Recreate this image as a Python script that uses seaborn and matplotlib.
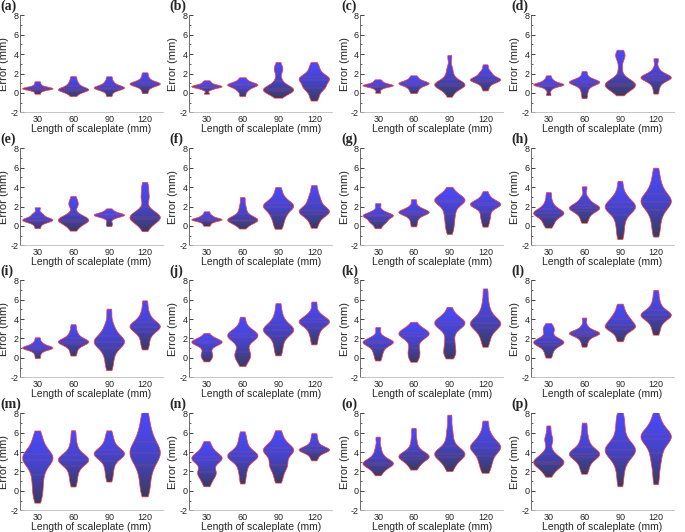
import numpy as np
import pandas as pd
import seaborn as sns
import matplotlib.pyplot as plt
from matplotlib.colors import LinearSegmentedColormap
from matplotlib.ticker import MultipleLocator

# Scaleplate lengths (mm)
lengths = ["30", "60", "90", "120"]
panel_labels = list("abcdefghijklmnop")

# Error samples (mm), one list per length
panel_a = [[-0.1, 0.15, 0.3, 0.35, 0.4, 0.42, 0.45, 0.5, 0.55, 0.65, 0.85, 1.1],
           [-0.3, 0.0, 0.15, 0.25, 0.3, 0.35, 0.4, 0.5, 0.7, 0.9, 1.2, 1.6],
           [-0.3, 0.1, 0.3, 0.4, 0.5, 0.5, 0.55, 0.6, 0.75, 0.95, 1.2, 1.6],
           [0.0, 0.4, 0.65, 0.8, 0.85, 0.9, 0.95, 1.0, 1.1, 1.3, 1.6, 2.0]]
panel_b = [[-0.1, 0.3, 0.45, 0.55, 0.6, 0.62, 0.65, 0.7, 0.75, 0.85, 1.0, 1.2],
           [-0.3, 0.1, 0.35, 0.5, 0.65, 0.75, 0.8, 0.85, 0.9, 1.0, 1.2, 1.5],
           [-0.4, -0.1, 0.1, 0.2, 0.25, 0.3, 0.35, 0.4, 0.5, 0.7, 1.0, 1.5, 2.3, 2.45, 3.0],
           [-0.7, -0.2, 0.3, 0.5, 0.6, 0.8, 1.1, 1.3, 1.4, 1.5, 1.6, 1.7, 2.1, 2.5, 3.0]]
panel_c = [[0.0, 0.35, 0.55, 0.65, 0.7, 0.72, 0.75, 0.8, 0.85, 0.95, 1.1, 1.3],
           [0.0, 0.3, 0.55, 0.7, 0.85, 0.9, 0.95, 1.0, 1.1, 1.2, 1.4, 1.7],
           [-0.3, 0.2, 0.5, 0.65, 0.75, 0.8, 0.85, 0.9, 1.0, 1.2, 1.5, 2.0, 2.6, 3.7],
           [0.3, 0.7, 1.0, 1.15, 1.25, 1.3, 1.35, 1.4, 1.5, 1.6, 1.9, 2.0, 2.3, 2.8]]
panel_d = [[-0.2, 0.3, 0.6, 0.75, 0.8, 0.8, 0.82, 0.85, 0.9, 1.0, 1.2, 1.35, 1.7],
           [-0.5, 0.0, 0.4, 0.7, 0.9, 1.0, 1.05, 1.1, 1.15, 1.2, 1.3, 1.6, 2.1],
           [-0.1, 0.3, 0.55, 0.7, 0.75, 0.8, 0.85, 0.9, 1.0, 1.1, 1.4, 2.5, 3.7, 3.8, 4.2],
           [0.0, 0.6, 1.0, 1.3, 1.45, 1.5, 1.55, 1.6, 1.7, 1.8, 2.0, 2.5, 3.4]]
panel_e = [[-0.2, 0.2, 0.4, 0.5, 0.55, 0.6, 0.65, 0.7, 0.85, 1.1, 1.25, 1.8],
           [-0.4, 0.0, 0.3, 0.45, 0.55, 0.6, 0.65, 0.7, 0.9, 1.2, 2.1, 2.3, 2.9],
           [0.0, 0.3, 0.7, 0.9, 1.0, 1.05, 1.1, 1.1, 1.15, 1.2, 1.3, 1.45, 1.7],
           [-0.4, 0.1, 0.4, 0.6, 0.75, 0.8, 0.85, 0.9, 1.0, 1.15, 1.4, 1.7, 2.8, 3.0, 3.8, 4.3]]
panel_f = [[0.0, 0.25, 0.45, 0.55, 0.6, 0.62, 0.65, 0.7, 0.8, 0.95, 1.1, 1.4],
           [-0.2, 0.15, 0.4, 0.5, 0.55, 0.6, 0.65, 0.75, 0.9, 1.2, 1.6, 2.1, 2.8],
           [-0.2, 0.3, 0.8, 1.1, 1.4, 1.7, 1.9, 2.0, 2.1, 2.2, 2.4, 2.7, 3.1, 3.8],
           [-0.1, 0.5, 0.9, 1.2, 1.35, 1.45, 1.5, 1.6, 1.8, 2.1, 2.5, 2.8, 3.3, 4.0]]
panel_g = [[-0.2, 0.2, 0.4, 0.5, 0.7, 0.9, 1.0, 1.05, 1.1, 1.15, 1.3, 1.6, 2.2],
           [0.0, 0.5, 0.9, 1.15, 1.3, 1.35, 1.4, 1.45, 1.55, 1.7, 2.0, 2.6],
           [-0.7, -0.1, 0.4, 0.9, 1.3, 1.7, 2.1, 2.4, 2.55, 2.6, 2.65, 2.7, 2.8, 3.0, 3.3, 3.8],
           [0.0, 0.5, 0.9, 1.2, 1.6, 1.9, 2.05, 2.15, 2.2, 2.25, 2.3, 2.4, 2.6, 2.9, 3.4]]
panel_h = [[-0.1, 0.3, 0.6, 0.9, 1.1, 1.2, 1.3, 1.35, 1.4, 1.6, 1.8, 2.1, 2.6, 3.3],
           [0.4, 0.9, 1.3, 1.5, 1.7, 1.8, 1.85, 1.9, 2.0, 2.2, 2.5, 2.9, 3.9],
           [-1.2, -0.4, 0.3, 0.9, 1.3, 1.6, 1.8, 1.9, 2.0, 2.1, 2.3, 2.6, 2.9, 3.4, 4.4],
           [-0.9, 0.0, 0.8, 1.4, 1.8, 2.2, 2.4, 2.5, 2.6, 2.8, 3.1, 3.5, 4.0, 4.7, 5.7]]
panel_i = [[0.0, 0.4, 0.7, 0.85, 0.95, 1.0, 1.0, 1.05, 1.1, 1.2, 1.4, 1.6, 2.0],
           [0.3, 0.8, 1.2, 1.4, 1.55, 1.6, 1.65, 1.7, 1.8, 2.0, 2.3, 2.7, 3.3],
           [-1.1, -0.3, 0.4, 0.9, 1.3, 1.5, 1.6, 1.7, 1.8, 2.0, 2.4, 2.9, 3.5, 4.8],
           [1.0, 1.6, 2.2, 2.6, 2.9, 3.1, 3.2, 3.25, 3.3, 3.5, 3.8, 4.2, 4.8, 5.7]]
panel_j = [[-0.3, 0.1, 0.25, 0.6, 1.0, 1.3, 1.5, 1.55, 1.6, 1.65, 1.7, 1.8, 2.0, 2.4],
           [-0.7, -0.1, 0.2, 0.35, 0.8, 1.4, 1.9, 2.1, 2.2, 2.3, 2.35, 2.5, 2.7, 3.1, 4.0],
           [0.4, 1.1, 1.7, 2.2, 2.5, 2.7, 2.85, 2.9, 3.0, 3.2, 3.5, 3.9, 4.5, 5.4],
           [1.5, 2.2, 2.7, 3.1, 3.4, 3.6, 3.7, 3.75, 3.8, 4.0, 4.3, 4.7, 5.6]]
panel_k = [[-0.2, 0.3, 0.7, 1.0, 1.3, 1.45, 1.55, 1.6, 1.65, 1.75, 1.9, 2.2, 3.0],
           [-0.3, 0.1, 0.5, 0.8, 1.3, 1.8, 2.1, 2.3, 2.4, 2.5, 2.55, 2.6, 2.8, 3.0, 3.5],
           [0.1, 0.5, 0.65, 1.4, 1.7, 2.4, 3.0, 3.3, 3.5, 3.55, 3.6, 3.65, 3.7, 3.9, 4.3, 5.0],
           [1.3, 2.0, 2.5, 2.9, 3.2, 3.4, 3.5, 3.55, 3.6, 3.8, 4.1, 4.5, 5.0, 5.8, 6.9]]
panel_l = [[0.1, 0.6, 1.0, 1.3, 1.45, 1.55, 1.6, 1.65, 1.7, 1.9, 2.2, 2.8, 2.95, 3.4],
           [1.2, 1.7, 2.0, 2.3, 2.4, 2.45, 2.5, 2.55, 2.6, 2.7, 2.9, 3.3, 4.0],
           [1.8, 2.4, 2.8, 3.0, 3.1, 3.2, 3.3, 3.5, 3.7, 3.9, 4.1, 4.4, 4.8, 5.4],
           [2.5, 3.1, 3.6, 3.9, 4.2, 4.3, 4.4, 4.45, 4.5, 4.7, 5.0, 5.4, 6.0, 6.8]]
panel_m = [[-1.0, -0.2, 0.5, 1.2, 1.8, 2.4, 2.8, 3.1, 3.3, 3.4, 3.5, 3.7, 4.0, 4.5, 5.1, 5.9],
           [0.6, 1.3, 1.9, 2.4, 2.8, 3.0, 3.1, 3.2, 3.25, 3.3, 3.5, 3.8, 4.3, 5.0, 6.0],
           [1.1, 1.8, 2.4, 2.9, 3.3, 3.6, 3.7, 3.8, 3.85, 3.9, 4.1, 4.4, 4.8, 5.3, 6.0],
           [-0.3, 0.6, 1.5, 2.2, 2.8, 3.2, 3.5, 3.8, 4.0, 4.2, 4.5, 4.9, 5.4, 6.0, 6.8, 7.9]]
panel_n = [[0.6, 1.2, 1.6, 1.8, 2.0, 2.4, 2.9, 3.2, 3.3, 3.35, 3.4, 3.6, 3.9, 4.3, 4.9],
           [0.9, 1.7, 2.3, 2.8, 3.2, 3.4, 3.5, 3.6, 3.65, 3.7, 3.9, 4.2, 4.7, 5.2, 5.9],
           [1.0, 1.7, 2.3, 2.6, 2.8, 3.2, 3.7, 4.0, 4.1, 4.2, 4.3, 4.5, 4.8, 5.3, 6.0],
           [3.2, 3.6, 3.9, 4.05, 4.15, 4.2, 4.25, 4.3, 4.4, 4.6, 4.9, 5.3, 5.8]]
panel_o = [[1.7, 2.1, 2.4, 2.6, 2.7, 2.8, 2.85, 2.9, 3.0, 3.2, 3.5, 3.9, 4.5, 5.4],
           [2.3, 2.7, 3.0, 3.3, 3.4, 3.5, 3.55, 3.6, 3.7, 3.9, 4.2, 4.7, 5.4, 6.3],
           [2.2, 2.7, 3.1, 3.4, 3.6, 3.75, 3.8, 3.85, 3.9, 4.1, 4.4, 4.9, 5.6, 6.4, 7.6],
           [2.0, 2.6, 3.1, 3.5, 3.9, 4.2, 4.4, 4.5, 4.6, 4.8, 5.1, 5.5, 6.0, 7.0]]
panel_p = [[1.6, 2.1, 2.4, 2.7, 2.85, 2.9, 2.95, 3.0, 3.1, 3.3, 3.7, 4.0, 5.2, 5.35, 6.5],
           [1.9, 2.5, 3.0, 3.4, 3.6, 3.75, 3.8, 3.85, 3.9, 4.2, 4.6, 5.1, 5.8, 6.8],
           [0.7, 1.8, 2.7, 3.3, 3.7, 4.0, 4.15, 4.2, 4.3, 4.5, 4.9, 5.4, 6.2, 7.0, 7.9],
           [0.9, 2.0, 2.9, 3.5, 4.1, 4.6, 5.0, 5.3, 5.5, 5.6, 5.7, 5.8, 6.0, 6.5, 7.0, 7.8]]

panels = [panel_a, panel_b, panel_c, panel_d, panel_e, panel_f, panel_g, panel_h,
          panel_i, panel_j, panel_k, panel_l, panel_m, panel_n, panel_o, panel_p]

sns.set_style("ticks")
plt.rcParams["font.family"] = ["Liberation Sans", "DejaVu Sans"]
plt.rcParams["axes.unicode_minus"] = False

grad_cmap = LinearSegmentedColormap.from_list("violin", ["#3b3b62", "#4444c8", "#4a4aff"])
gradient = np.linspace(0, 1, 256).reshape(-1, 1)

fig = plt.figure(figsize=(6.85, 5.32), dpi=100)

col_left = [0.029, 0.276, 0.526, 0.775]
row_bottom = [0.789, 0.539, 0.291, 0.041]
ax_w, ax_h = 0.209, 0.182

for idx, (label, values) in enumerate(zip(panel_labels, panels)):
    r, c = divmod(idx, 4)
    ax = fig.add_axes([col_left[c], row_bottom[r], ax_w, ax_h])

    df = pd.DataFrame({
        "length": np.concatenate([[l] * len(v) for l, v in zip(lengths, values)]),
        "error": np.concatenate(values),
    })

    sns.violinplot(data=df, x="length", y="error", order=lengths, ax=ax,
                   inner="quart", cut=0.4, bw_adjust=0.65, density_norm="width",
                   width=0.85, color="#4a4aff", linecolor="#ff3b3b", linewidth=0.5,
                   inner_kws=dict(linewidth=0.35, color="#ff5a5a", alpha=0.6))

    # swap flat fill for a vertical blue gradient clipped to each violin
    for coll in list(ax.collections):
        coll.set_facecolor("none")
        coll.set_zorder(2)
        for path in coll.get_paths():
            bb = path.get_extents()
            im = ax.imshow(gradient, cmap=grad_cmap, origin="lower", aspect="auto",
                           extent=[bb.x0, bb.x1, bb.y0, bb.y1], zorder=1,
                           interpolation="bilinear")
            im.set_clip_path(path, transform=ax.transData)

    ax.set_xlim(-0.5, 3.5)
    ax.set_ylim(-2, 8)
    ax.yaxis.set_major_locator(MultipleLocator(2))
    ax.yaxis.set_minor_locator(MultipleLocator(1))
    ax.tick_params(axis="y", which="major", direction="in", length=3, width=0.6,
                   labelsize=6.5, pad=1, colors="#222222")
    ax.tick_params(axis="y", which="minor", direction="in", length=1.5, width=0.5)
    ax.tick_params(axis="x", length=0, labelsize=6.5, pad=2, colors="#222222")
    for side in ["top", "right"]:
        ax.spines[side].set_visible(False)
    ax.spines["left"].set_color("#555555")
    ax.spines["left"].set_linewidth(0.6)
    ax.spines["bottom"].set_color("#bbbbbb")
    ax.spines["bottom"].set_linewidth(0.6)

    ax.set_xlabel("Length of scaleplate (mm)", fontsize=7.5, labelpad=0)
    ax.set_ylabel("Error (mm)", fontsize=8, labelpad=1)
    ax.text(-0.135, 1.09, f"({label})", transform=ax.transAxes, ha="left", va="center",
            fontsize=10, fontweight="bold", family=["Liberation Serif", "DejaVu Serif"])

plt.savefig("out.png", dpi=100)
